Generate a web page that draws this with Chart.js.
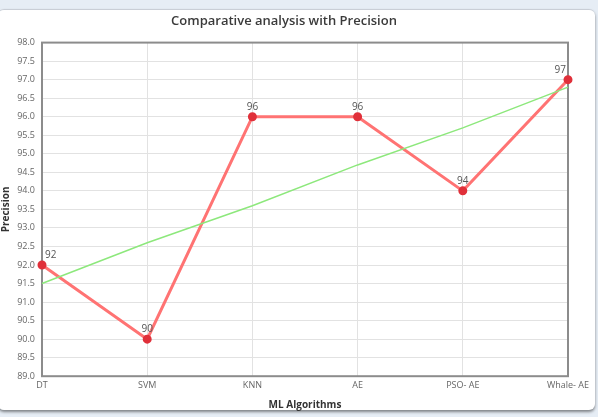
<!DOCTYPE html>
<html lang="en">
<head>
    <meta charset="UTF-8">
    <title>Comparative analysis with Precision</title>
    <script src="https://cdn.jsdelivr.net/npm/chart.js"></script>
    <style>
        body {
            margin: 0;
            padding: 0;
            width: 598px;
            height: 417px;
            background: #e6edf5;
            font-family: "Open Sans", Arial, sans-serif;
            overflow: hidden;
        }

        .card {
            position: absolute;
            left: -2px;
            top: 9px;
            width: 597px;
            height: 400px;
            background: white;
            border-top: 1px solid #c9ced6;
            border-radius: 6px;
            box-shadow: 0px 2px 3px rgba(0, 0, 0, 0.45);
        }

        .chart-box {
            position: absolute;
            left: 0;
            top: 0;
            width: 598px;
            height: 417px;
        }
    </style>
</head>
<body>
    <div class="card"></div>
    <div class="chart-box">
        <canvas id="precisionChart"></canvas>
    </div>

    <script>
        // values
        const algorithms = ["DT", "SVM", "KNN", "AE", "PSO- AE", "Whale- AE"];
        const precision = [92, 90, 96, 96, 94, 97];
        const trendLine = [91.5, 92.6, 93.6, 94.7, 95.7, 96.8];

        const yMin = 89.0;
        const yMax = 98.0;
        const yStep = 0.5;

        // frame round the plot area
        const framePlugin = {
            id: "frame",
            beforeDatasetsDraw(chart) {
                const a = chart.chartArea;
                const ctx = chart.ctx;
                ctx.save();
                ctx.strokeStyle = "#8c8c8c";
                ctx.lineWidth = 2;
                ctx.strokeRect(a.left, a.top, a.right - a.left, a.bottom - a.top);
                ctx.restore();
            }
        };

        // value labels above the points
        const valueLabels = {
            id: "valueLabels",
            afterDatasetsDraw(chart) {
                const ctx = chart.ctx;
                const a = chart.chartArea;
                const meta = chart.getDatasetMeta(1);
                ctx.save();
                ctx.font = "10px 'Open Sans', Arial, sans-serif";
                ctx.fillStyle = "#555555";
                ctx.textAlign = "center";
                ctx.textBaseline = "bottom";
                meta.data.forEach((pt, i) => {
                    const txt = String(precision[i]);
                    const w = ctx.measureText(txt).width;
                    let x = pt.x;
                    if (x - w / 2 < a.left + 2) x = a.left + w / 2 + 3;
                    if (x + w / 2 > a.right - 1) x = a.right - w / 2 - 2;
                    ctx.fillText(txt, x, pt.y - 5);
                });
                ctx.restore();
            }
        };

        new Chart(document.getElementById("precisionChart"), {
            type: "line",
            data: {
                labels: algorithms,
                datasets: [
                    {
                        label: "Trend",
                        data: trendLine,
                        borderColor: "#8de87c",
                        borderWidth: 1.5,
                        pointRadius: 0,
                        fill: false,
                        tension: 0
                    },
                    {
                        label: "Precision",
                        data: precision,
                        borderColor: "#ff7373",
                        borderWidth: 3,
                        pointRadius: 3,
                        pointBackgroundColor: "#e0303a",
                        pointBorderColor: "#e0303a",
                        fill: false,
                        tension: 0
                    }
                ]
            },
            options: {
                responsive: true,
                maintainAspectRatio: false,
                animation: false,
                layout: {
                    padding: { left: 0, right: 30, top: 0, bottom: 6 }
                },
                plugins: {
                    legend: { display: false },
                    tooltip: { enabled: false },
                    title: {
                        display: true,
                        text: "Comparative analysis with Precision",
                        color: "#3a3a3a",
                        font: { family: "'Open Sans', Arial, sans-serif", size: 13, weight: "600" },
                        padding: { top: 13, bottom: 14 }
                    }
                },
                scales: {
                    x: {
                        offset: false,
                        grid: { color: "#e2e2e2", lineWidth: 1, drawTicks: false },
                        border: { display: false },
                        ticks: {
                            color: "#666666",
                            font: { family: "'Open Sans', Arial, sans-serif", size: 9 },
                            padding: 4,
                            maxRotation: 0,
                            autoSkip: false
                        },
                        title: {
                            display: true,
                            text: "ML Algorithms",
                            color: "#333333",
                            font: { family: "'Open Sans', Arial, sans-serif", size: 10, weight: "bold" },
                            padding: { top: 4, bottom: 0 }
                        }
                    },
                    y: {
                        min: yMin,
                        max: yMax,
                        grid: { color: "#e2e2e2", lineWidth: 1, drawTicks: false },
                        border: { display: false },
                        ticks: {
                            stepSize: yStep,
                            color: "#666666",
                            font: { family: "'Open Sans', Arial, sans-serif", size: 9 },
                            padding: 7,
                            callback: (v) => Number(v).toFixed(1)
                        },
                        title: {
                            display: true,
                            text: "Precision",
                            color: "#333333",
                            font: { family: "'Open Sans', Arial, sans-serif", size: 10, weight: "bold" },
                            padding: { top: 0, bottom: 0 }
                        },
                        afterFit(scale) {
                            scale.width = 42;
                        }
                    }
                }
            },
            plugins: [framePlugin, valueLabels]
        });
    </script>
</body>
</html>
